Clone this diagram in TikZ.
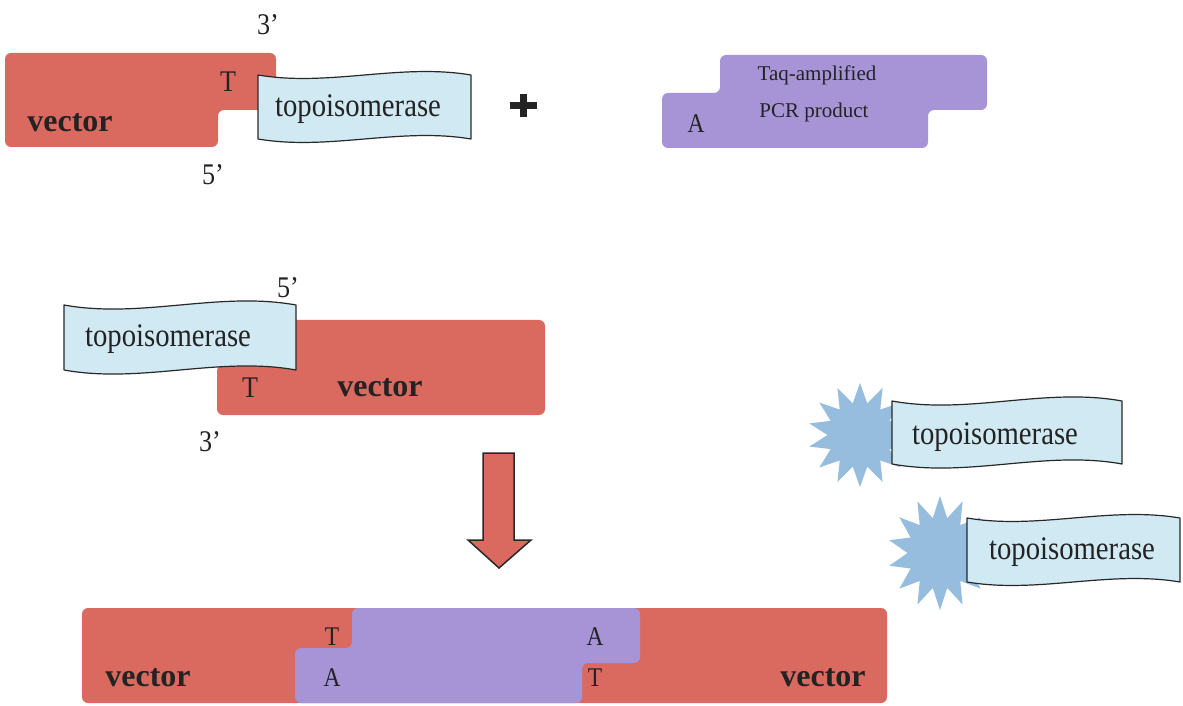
\documentclass[tikz,border=0pt]{standalone}
\usepackage{fontspec}
\setmainfont{Liberation Serif}
\usepackage{xcolor}
\usetikzlibrary{shapes.geometric}

\begin{document}
\begin{tikzpicture}[x=1pt,y=1pt,
  vecbox/.style={fill=vecColor,rounded corners=6pt},
  pcrbox/.style={fill=pcrColor,rounded corners=6pt},
  band/.style={fill=bandColor,draw=lineColor,line width=1.2pt,line join=round},
  burst/.style={star,star points=14,star point ratio=1.6,fill=burstColor,inner sep=0pt,minimum size=104pt},
  lbl/.style={text=textColor,inner sep=0pt,outer sep=0pt,font=\fontsize{30}{30}\selectfont,xscale=0.87},
  enz/.style={lbl,font=\fontsize{33}{33}\selectfont},
  vec/.style={text=textColor,inner sep=0pt,outer sep=0pt,font=\fontsize{32}{32}\selectfont\bfseries},
  small/.style={text=textColor,inner sep=0pt,outer sep=0pt,font=\fontsize{21}{21}\selectfont}]
\definecolor{fillColor}{RGB}{255,255,255}
\definecolor{vecColor}{RGB}{218,106,96}
\definecolor{pcrColor}{RGB}{166,148,214}
\definecolor{bandColor}{RGB}{208,233,242}
\definecolor{burstColor}{RGB}{150,188,222}
\definecolor{lineColor}{RGB}{40,40,40}
\definecolor{textColor}{RGB}{35,35,35}
\path[use as bounding box,fill=fillColor] (0,0) rectangle (1183,705);

% vector with topoisomerase bound
\path[vecbox] (5,652) -- (276,652) -- (276,595) -- (218,595) -- (218,558) -- (5,558) -- cycle;
\path[band] (258,630) .. controls (329,618) and (400,642) .. (471,630) -- (471,566) .. controls (400,578) and (329,554) .. (258,566) -- cycle;
\node[enz] (topoA) at (358,596) {topoisomerase};
\node[lbl] (tA) at (228,623) {T};
\node[vec] (vecA) at (70,582) {vector};
\node[lbl] (endA3) at (268,680) {3’};
\node[lbl] (endA5) at (213,530) {5’};

\path[draw=textColor,line width=7pt] (510,599) -- (537,599);
\path[draw=textColor,line width=7pt] (523,588) -- (523,611);

% PCR product
\path[pcrbox] (720,650) -- (987,650) -- (987,595) -- (928,595) -- (928,557) -- (662,557) -- (662,612) -- (720,612) -- cycle;
\node[small] (taq) at (817,630) {Taq-amplified};
\node[small] (pcr) at (814,593) {PCR product};
\node[lbl,font=\fontsize{27}{27}\selectfont] (aP) at (696,581) {A};

% vector turned round
\path[vecbox] (280,385) -- (545,385) -- (545,290) -- (217,290) -- (217,340) -- (280,340) -- cycle;
\path[band] (64,400) .. controls (141,386) and (219,414) .. (296,400) -- (296,335) .. controls (219,349) and (141,321) .. (64,335) -- cycle;
\node[enz] (topoB) at (168,366) {topoisomerase};
\node[lbl] (tB) at (250,317) {T};
\node[vec] (vecB) at (380,317) {vector};
\node[lbl] (endB5) at (288,417) {5’};
\node[lbl] (endB3) at (210,263) {3’};

% released topoisomerase
\node[burst] (burstA) at (860,270) {};
\path[band] (892,304) .. controls (969,290) and (1045,318) .. (1122,304) -- (1122,241) .. controls (1045,255) and (969,227) .. (892,241) -- cycle;
\node[enz] (topoC) at (995,268) {topoisomerase};
\node[burst,yscale=1.1] (burstB) at (940,152) {};
\path[band] (967,187) .. controls (1038,175) and (1109,199) .. (1180,187) -- (1180,123) .. controls (1109,135) and (1038,111) .. (967,123) -- cycle;
\node[enz] (topoD) at (1072,153) {topoisomerase};

% arrow
\path[fill=vecColor,draw=lineColor,line width=1.5pt,line join=miter] (483,252) -- (514,252) -- (514,165) -- (531,165) -- (499,137) -- (468,165) -- (483,165) -- cycle;

% ligated product
\path[vecbox] (82,2) rectangle (887,97);
\path[pcrbox] (352,97) -- (640,97) -- (640,42) -- (582,42) -- (582,2) -- (295,2) -- (295,57) -- (352,57) -- cycle;
\node[lbl,font=\fontsize{27}{27}\selectfont] (tL) at (332,68) {T};
\node[lbl,font=\fontsize{27}{27}\selectfont] (aL) at (332,27) {A};
\node[lbl,font=\fontsize{27}{27}\selectfont] (aR) at (595,68) {A};
\node[lbl,font=\fontsize{27}{27}\selectfont] (tR) at (595,27) {T};
\node[vec] (vecL) at (148,27) {vector};
\node[vec] (vecR) at (823,27) {vector};
\end{tikzpicture}
\end{document}
